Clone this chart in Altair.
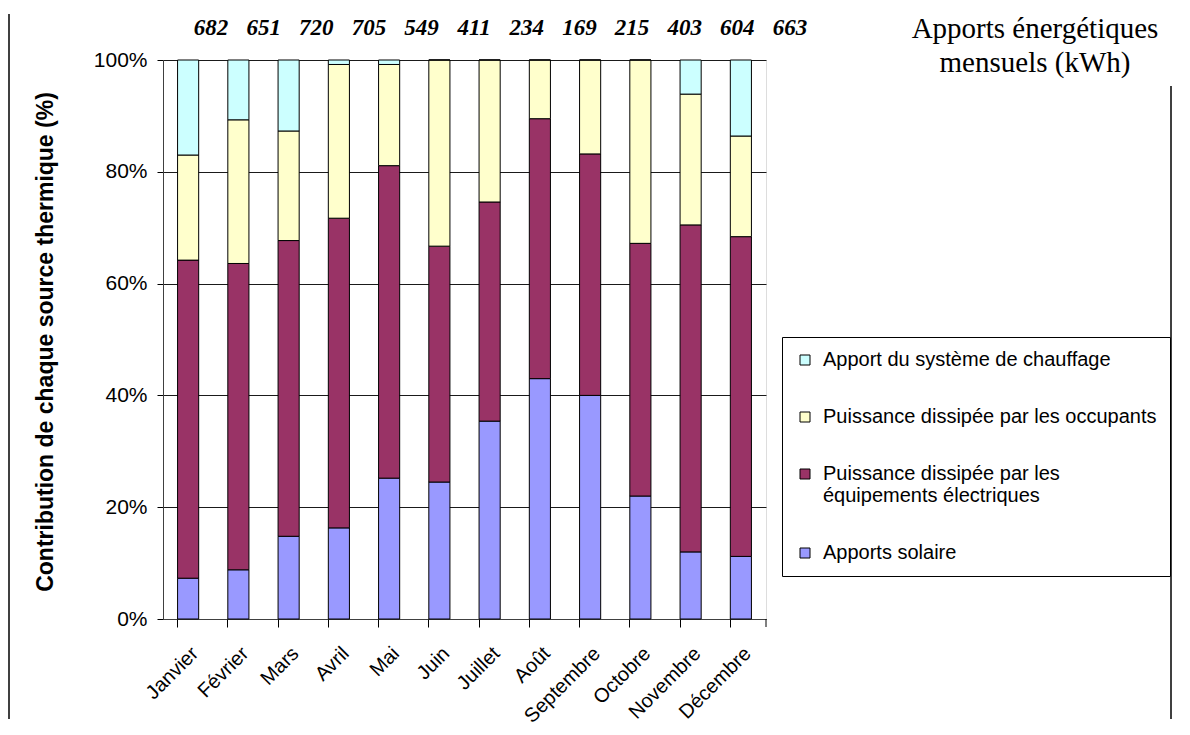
import altair as alt
import pandas as pd

months = ["Janvier", "Février", "Mars", "Avril", "Mai", "Juin", "Juillet",
          "Août", "Septembre", "Octobre", "Novembre", "Décembre"]
apports_kwh = [682, 651, 720, 705, 549, 411, 234, 169, 215, 403, 604, 663]

# contributions (%) of each source, per month
solaire = [7.3, 8.8, 14.8, 16.3, 25.2, 24.5, 35.4, 43.0, 40.0, 22.0, 12.0, 11.2]
equipements = [56.9, 54.8, 52.9, 55.4, 55.9, 42.2, 39.2, 46.5, 43.2, 45.2, 58.5, 57.2]
occupants = [18.8, 25.7, 19.6, 27.5, 18.1, 33.3, 25.4, 10.5, 16.8, 32.8, 23.4, 18.0]
chauffage = [17.0, 10.7, 12.7, 0.8, 0.8, 0.0, 0.0, 0.0, 0.0, 0.0, 6.1, 13.6]

series_names = ["Apport du système de chauffage",
                "Puissance dissipée par les occupants",
                "Puissance dissipée par les\néquipements électriques",
                "Apports solaire"]
series_colors = ["#CCFFFF", "#FFFFCC", "#993366", "#9999FF"]
y_ticks = [0, 20, 40, 60, 80, 100]
side_title = "Apports énergétiques\nmensuels (kWh)"
y_title = "Contribution de chaque source thermique (%)"

rows = []
stack_series = [(series_names[3], solaire), (series_names[2], equipements),
                (series_names[1], occupants), (series_names[0], chauffage)]
for order, (name, vals) in enumerate(stack_series):
    for m, v in zip(months, vals):
        rows.append({"mois": m, "source": name, "pct": v, "ordre": order})
df = pd.DataFrame(rows)

W, H = 603, 559
SANS = "Liberation Sans"
SERIF = "Liberation Serif"


def xscale():
    return alt.Scale(type="band", domain=months, paddingInner=0.58, paddingOuter=0.29)


bars = alt.Chart(df).mark_bar(stroke="black", strokeWidth=1).encode(
    x=alt.X("mois:N", sort=months, scale=xscale(), title=None,
            axis=alt.Axis(orient="bottom", labelAngle=-45, labelFont=SANS, labelFontSize=20,
                          labelColor="black", ticks=False, tickSize=0, domain=True,
                          domainColor="#404040", labelPadding=24, grid=False)),
    y=alt.Y("pct:Q", stack="zero", scale=alt.Scale(domain=[0, 100], nice=False),
            axis=alt.Axis(values=y_ticks, labelExpr="datum.value + '%'", grid=True,
                          gridColor="#1a1a1a", gridWidth=1, gridOpacity=1, domain=True,
                          domainColor="#404040", ticks=True, tickSize=6, tickColor="black",
                          labelFont=SANS, labelFontSize=21, labelColor="black", labelPadding=10,
                          title=y_title, titleFont=SANS, titleFontSize=23, titleFontWeight="bold",
                          titleColor="black", titleX=-118, titleY=H / 2 + 2, titleAngle=270,
                          titleAlign="center", titleBaseline="middle")),
    color=alt.Color("source:N", scale=alt.Scale(domain=series_names, range=series_colors),
                    legend=alt.Legend(orient="none", legendX=619, legendY=277, title=None,
                                      labelFont=SANS, labelFontSize=20, labelColor="black",
                                      symbolType="square", symbolSize=100,
                                      symbolStrokeColor="black", symbolStrokeWidth=1,
                                      strokeColor="black", fillColor="white", padding=13,
                                      rowPadding=37, labelOffset=8, labelLimit=500,
                                      labelExpr="split(datum.label, '\\n')")),
    order=alt.Order("ordre:Q"),
)

tick_df = pd.DataFrame({"mois": months})
ticks_layer = alt.Chart(tick_df).mark_point(opacity=0).encode(
    x=alt.X("mois:N", sort=months, scale=xscale(), title=None,
            axis=alt.Axis(orient="bottom", bandPosition=0, labels=False, ticks=True,
                          tickSize=8, tickColor="black", domain=False, grid=False)),
    y=alt.value(0),
)

end_tick = alt.Chart(pd.DataFrame({"a": [0]})).mark_rule(color="black").encode(
    x=alt.value(W), y=alt.value(H), y2=alt.value(H + 8))

num_df = pd.DataFrame({"mois": months, "kwh": apports_kwh})
nums = alt.Chart(num_df).mark_text(font=SERIF, fontSize=23, fontWeight="bold",
                                   fontStyle="italic", baseline="middle", align="center",
                                   color="black").encode(
    x=alt.X("mois:N", sort=months,
            scale=alt.Scale(type="point", domain=months, range=[48, 627], padding=0),
            axis=None),
    y=alt.value(-32),
    text="kwh:N",
)

title_txt = alt.Chart(pd.DataFrame({"t": [side_title]})).mark_text(
    font=SERIF, fontSize=29, align="center", baseline="alphabetic", lineBreak="\n",
    lineHeight=34, color="black").encode(
    text="t:N", x=alt.value(872), y=alt.value(-22))

frame_left = alt.Chart(pd.DataFrame({"a": [0]})).mark_rule(color="black", strokeWidth=1.5).encode(
    x=alt.value(-154), y=alt.value(-46), y2=alt.value(659))
frame_right = alt.Chart(pd.DataFrame({"a": [0]})).mark_rule(color="black", strokeWidth=1.5).encode(
    x=alt.value(1008), y=alt.value(26), y2=alt.value(659))

chart = alt.layer(bars, ticks_layer, end_tick, nums, title_txt, frame_left, frame_right).resolve_scale(
    x="independent"
).properties(
    width=W, height=H,
    autosize=alt.AutoSizeParams(type="none"),
    padding={"left": 155, "top": 52, "right": 416, "bottom": 108},
).configure_view(
    fill="#C0C0C0", stroke="#808080", strokeWidth=1
).configure(background="white")

chart.save("out.html", embed_options={"renderer": "svg", "actions": False})
